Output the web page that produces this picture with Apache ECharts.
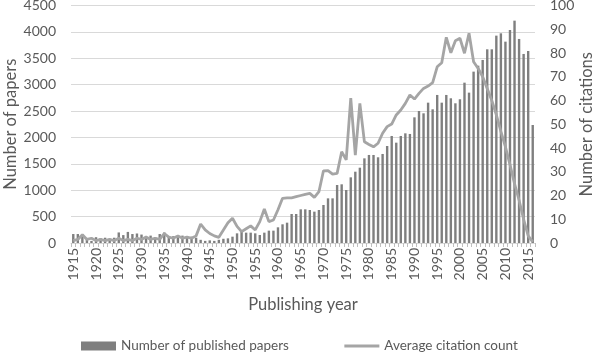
<!DOCTYPE html>
<html>
<head>
<meta charset="utf-8">
<script src="https://cdn.jsdelivr.net/npm/echarts@6/dist/echarts.min.js"></script>
<style>html,body{margin:0;padding:0;background:#fff}#c{width:600px;height:360px}</style>
</head>
<body>
<div id="c"></div>
<script>
const years = [];
for (let y = 1915; y <= 2016; y++) years.push(String(y));

const papers = [
  170,170,170,60,40,110,90,100,80,100,        // 1915-1924
  200,150,210,170,180,160,110,140,110,170,    // 1925-1934
  200,120,130,110,140,110,120,100,60,40,      // 1935-1944
  50,40,60,80,88,120,183,215,196,196,         // 1945-1954
  183,152,196,234,234,297,354,385,550,550,    // 1955-1964
  638,638,625,594,625,720,846,846,1099,1112,  // 1965-1974
  1004,1244,1351,1427,1604,1668,1668,1624,1687,1838, // 1975-1984
  2028,1901,2028,2078,2066,2381,2501,2457,2659,2533, // 1985-1994
  2805,2659,2805,2742,2647,2723,3038,2849,3247,3360, // 1995-2004
  3468,3670,3670,3929,3973,3815,4036,4213,3866,3582, // 2005-2014
  3638,2236                                          // 2015-2016
];

const citations = [
  1,1.5,3.5,1.5,2,1,1.5,1,1.5,1,              // 1915-1924
  2,1,1.5,1,2,1.5,2.5,1.5,2,1.5,              // 1925-1934
  4,2.5,2,3,2,2.5,2,3,8,5.5,                  // 1935-1944
  4,3,2.4,5.5,8.5,10.4,7,4.8,6,7.2,           // 1945-1954
  5.5,9,14.3,9,9.7,14,18.8,19,19,19.5,        // 1955-1964
  20,20.5,20.9,19.2,21.6,30.4,30.5,29,29.3,38.4, // 1965-1974
  35,61,37,58.8,42.6,41.5,40.5,42,46.2,49,    // 1975-1984
  50.1,53.9,56,58.8,62.3,60.6,63,65.1,66.1,67.5, // 1985-1994
  74.2,75.9,86.6,80.1,85.2,86.2,79.9,88.3,76.3,73.5, // 1995-2004
  70,65,60,54,47,40.5,33,25,18,10,            // 2005-2014
  3,0.5                                        // 2015-2016
];

const seriesNames = ['Number of published papers', 'Average citation count'];
const axisNames = ['Publishing year', 'Number of papers', 'Number of citations'];

const font = 'Lato, "Open Sans", sans-serif';
const txt = '#595959';
const chart = echarts.init(document.getElementById('c'), null, {renderer: 'canvas'});
chart.setOption({
  animation: false,
  textStyle: {fontFamily: font},
  grid: {left: 71, right: 65, top: 5.5, bottom: 117, containLabel: false, outerBoundsMode: 'none'},
  legend: {
    bottom: 2, left: 76, itemGap: 54, itemWidth: 35, itemHeight: 9,
    textStyle: {fontFamily: font, fontSize: 13.5, color: txt},
    data: [
      {name: seriesNames[0], icon: 'rect'},
      {name: seriesNames[1], itemStyle: {opacity: 0}, lineStyle: {color: '#a5a5a5', width: 3}}
    ]
  },
  xAxis: {
    type: 'category', data: years, boundaryGap: true,
    name: axisNames[0], nameLocation: 'middle', nameGap: 53, nameMoveOverlap: false,
    nameTextStyle: {fontFamily: font, fontSize: 16.5, color: txt},
    axisLine: {lineStyle: {color: '#d9d9d9'}},
    axisTick: {show: true, interval: 0, length: 4, lineStyle: {color: '#bfbfbf'}},
    axisLabel: {interval: 4, rotate: 90, fontSize: 14, color: txt, fontFamily: font, margin: 5}
  },
  yAxis: [
    {
      type: 'value', min: 0, max: 4500, interval: 500,
      name: axisNames[1], nameLocation: 'middle', nameGap: 52, nameRotate: 90, nameMoveOverlap: false,
      nameTextStyle: {fontFamily: font, fontSize: 16.5, color: txt},
      axisLabel: {fontSize: 14, color: txt, fontFamily: font, margin: 15, formatter: v => String(v)},
      splitLine: {lineStyle: {color: '#d9d9d9', width: 1}},
      axisLine: {show: false}, axisTick: {show: false}
    },
    {
      type: 'value', min: 0, max: 100, interval: 10, position: 'right',
      name: axisNames[2], nameLocation: 'middle', nameGap: 43, nameRotate: 90, nameMoveOverlap: false,
      nameTextStyle: {fontFamily: font, fontSize: 16.5, color: txt},
      axisLabel: {fontSize: 14, color: txt, fontFamily: font, margin: 15, formatter: v => String(v)},
      splitLine: {show: false},
      axisLine: {show: false}, axisTick: {show: false}
    }
  ],
  series: [
    {
      name: seriesNames[0], type: 'bar', data: papers, yAxisIndex: 0,
      barWidth: 2.4, itemStyle: {color: '#7f7f7f'}
    },
    {
      name: seriesNames[1], type: 'line', data: citations, yAxisIndex: 1,
      symbol: 'none', showSymbol: false, lineStyle: {color: '#a5a5a5', width: 2.8},
      itemStyle: {color: '#a5a5a5'}
    }
  ]
});
</script>
</body>
</html>
